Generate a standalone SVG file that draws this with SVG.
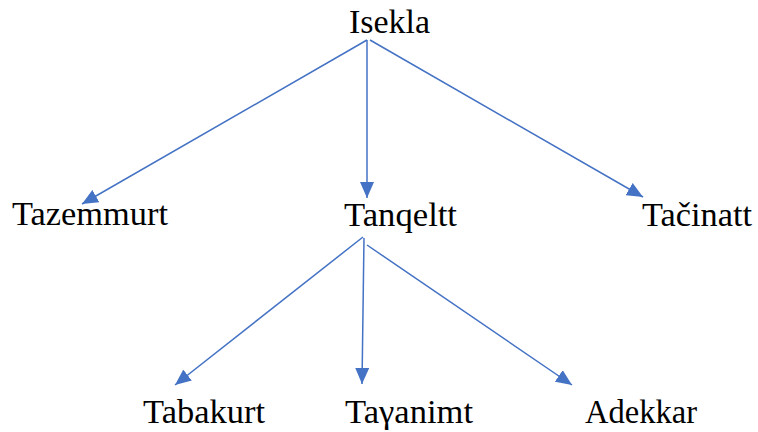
<svg xmlns="http://www.w3.org/2000/svg" width="758" height="432" viewBox="0 0 758 432">
<style>
.t{font-family:'Liberation Serif','DejaVu Serif',serif;font-size:33px;fill:#000}
.c{stroke:#4472C4;stroke-width:1.5;fill:none}
</style>
<defs>
<marker id="ah" markerUnits="userSpaceOnUse" markerWidth="16" markerHeight="14" viewBox="0 0 16 14" refX="16" refY="7" orient="auto">
<path d="M0,0 L16,7 L0,14 Z" fill="#4472C4"/>
</marker>
</defs>
<rect width="758" height="432" fill="#fff"/>
<g id="connectors">
<line class="c" x1="367" y1="40" x2="82" y2="204" marker-end="url(#ah)"/>
<line class="c" x1="367" y1="40" x2="367" y2="198" marker-end="url(#ah)"/>
<line class="c" x1="370" y1="40" x2="643" y2="197" marker-end="url(#ah)"/>
<line class="c" x1="363" y1="237" x2="175" y2="385" marker-end="url(#ah)"/>
<line class="c" x1="364" y1="238" x2="362" y2="384" marker-end="url(#ah)"/>
<line class="c" x1="367" y1="245" x2="572" y2="385" marker-end="url(#ah)"/>
</g>
<g id="isekla"><text class="t" x="349" y="33" textLength="81" lengthAdjust="spacingAndGlyphs">Isekla</text></g>
<g id="tazemmurt"><text class="t" x="12" y="225" textLength="156" lengthAdjust="spacingAndGlyphs">Tazemmurt</text></g>
<g id="tanqeltt"><text class="t" x="344" y="226" textLength="113" lengthAdjust="spacingAndGlyphs">Tanqeltt</text></g>
<g id="tacinatt"><text class="t" x="642" y="226" textLength="110" lengthAdjust="spacingAndGlyphs">Tačinatt</text></g>
<g id="tabakurt"><text class="t" x="143" y="423" textLength="122" lengthAdjust="spacingAndGlyphs">Tabakurt</text></g>
<g id="tayanimt"><text class="t" x="345" y="423" textLength="128" lengthAdjust="spacingAndGlyphs">Taγanimt</text></g>
<g id="adekkar"><text class="t" x="585" y="423" textLength="112" lengthAdjust="spacingAndGlyphs">Adekkar</text></g>
</svg>
